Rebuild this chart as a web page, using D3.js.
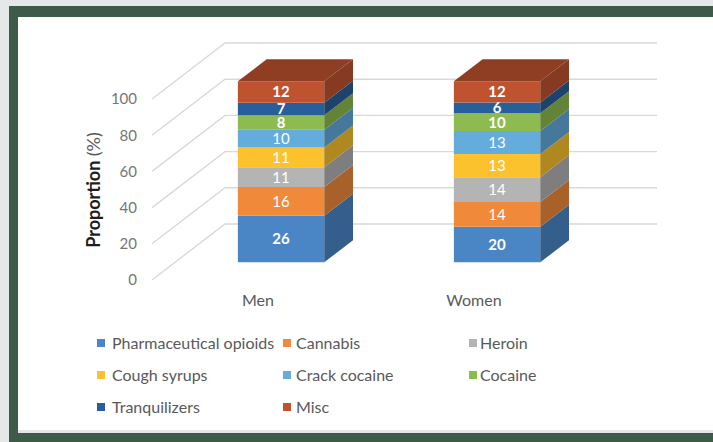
<!DOCTYPE html>
<html>
<head>
<meta charset="utf-8">
<script src="https://cdn.jsdelivr.net/npm/d3@7"></script>
<style>
  html, body { margin: 0; padding: 0; background: #e6e7e8; }
  svg { display: block; font-family: Lato, "Open Sans", sans-serif; }
</style>
</head>
<body>
<svg id="chart" width="713" height="442"></svg>
<script>
// Drug categories (stack order bottom → top) and their colours
const drugs = ["Pharmaceutical opioids", "Cannabis", "Heroin", "Cough syrups",
               "Crack cocaine", "Cocaine", "Tranquilizers", "Misc"];
const colors = ["#4a86c6", "#f08a3a", "#b4b4b4", "#fbc22e",
                "#63acdc", "#8dbb4f", "#285f9a", "#bf532f"];
// Labels drawn in bold weight
const boldDrugs = ["Pharmaceutical opioids", "Cocaine", "Tranquilizers", "Misc"];

const groups = ["Men", "Women"];
const men   = [26, 16, 11, 11, 10, 8, 7, 12];
const women = [20, 14, 14, 13, 13, 10, 6, 12];
const yTicks = [0, 20, 40, 60, 80, 100];

const svg = d3.select("#chart");

// Page frame
svg.append("rect").attr("x", 9).attr("y", 6).attr("width", 704).attr("height", 436).attr("fill", "#3d5b48");
svg.append("rect").attr("x", 18).attr("y", 17).attr("width", 695).attr("height", 416).attr("fill", "#e4e5e6");
svg.append("rect").attr("x", 18).attr("y", 17).attr("width", 695).attr("height", 413).attr("fill", "#ffffff");

// Oblique 3D projection: x along the floor, v in percent, z depth (0 front, 1 back)
const X0 = 152, Y0 = 280, DX = 73, DY = 56, FLOOR_W = 432;
const y = d3.scaleLinear().domain([0, 100]).range([Y0, Y0 - 181]);
const x = d3.scaleBand().domain(groups).range([-2, FLOOR_W - 2]).paddingInner(0.6).paddingOuter(0.3);
const P = (px, v, z) => [X0 + px + z * DX, y(v) - z * DY];
const poly = pts => "M" + pts.map(p => p.join(",")).join("L") + "Z";

// Gridlines: side wall diagonals and back wall horizontals
const grid = svg.append("g").attr("stroke", "#d9d9d9").attr("stroke-width", 1.4).attr("fill", "none");
yTicks.forEach(t => {
  grid.append("path").attr("d", "M" + [P(0, t, 0), P(0, t, 1), P(FLOOR_W, t, 1)].map(p => p.join(",")).join("L"));
});

// Y axis tick labels
const yAxis = svg.append("g").attr("transform", `translate(${X0},0)`)
  .call(d3.axisLeft(y).tickValues(yTicks).tickSize(0).tickPadding(15));
yAxis.select(".domain").remove();
yAxis.selectAll("text").attr("fill", "#767676").style("font-size", "15px").style("font-family", "Lato, sans-serif");

// Y axis title
const title = svg.append("text")
  .attr("transform", "translate(100,190) rotate(-90)")
  .attr("text-anchor", "middle").style("font-size", "18px");
title.append("tspan").attr("font-weight", "bold").attr("fill", "#1e1e1e").text("Proportion ");
title.append("tspan").attr("fill", "#595959").text("(%)");

// Stacked data, expanded to 100%
const rows = groups.map((g, gi) => {
  const r = { group: g };
  drugs.forEach((d, di) => r[d] = (gi === 0 ? men : women)[di]);
  return r;
});
const series = d3.stack().keys(drugs).offset(d3.stackOffsetExpand)(rows);

const Z1 = 0.316, Z2 = 0.71;
const bars = svg.append("g");
const labels = svg.append("g").attr("text-anchor", "middle").attr("fill", "#ffffff");

series.forEach((s, si) => {
  const c = d3.color(colors[si]);
  s.forEach((seg, gi) => {
    const g = groups[gi];
    const x0 = x(g), x1 = x(g) + x.bandwidth();
    const v0 = seg[0] * 100, v1 = seg[1] * 100;
    // front face
    bars.append("path").attr("fill", c.formatHex())
      .attr("d", poly([P(x0, v0, Z1), P(x1, v0, Z1), P(x1, v1, Z1), P(x0, v1, Z1)]));
    // right side face
    bars.append("path").attr("fill", c.darker(1).formatHex())
      .attr("d", poly([P(x1, v0, Z1), P(x1, v0, Z2), P(x1, v1, Z2), P(x1, v1, Z1)]));
    // top face on the highest segment
    if (si === series.length - 1) {
      bars.append("path").attr("fill", c.darker(0.8).formatHex())
        .attr("d", poly([P(x0, v1, Z1), P(x1, v1, Z1), P(x1, v1, Z2), P(x0, v1, Z2)]));
    }
    // value label
    const mid = P((x0 + x1) / 2, (v0 + v1) / 2, Z1);
    labels.append("text")
      .attr("x", mid[0]).attr("y", mid[1]).attr("dy", "0.36em")
      .attr("font-weight", boldDrugs.includes(s.key) ? "bold" : "normal")
      .style("font-size", "15px")
      .text(seg.data[s.key]);
  });
});

// Category labels along the floor front edge
svg.append("g").selectAll("text").data(groups).join("text")
  .attr("x", d => P(x(d) + x.bandwidth() / 2, 0, 0)[0])
  .attr("y", 306).attr("text-anchor", "middle")
  .attr("fill", "#595959").style("font-size", "16px")
  .text(d => d);

// Legend, three columns
const legend = svg.append("g");
drugs.forEach((d, i) => {
  const col = i % 3, row = Math.floor(i / 3);
  const lx = [97, 283, 469][col], ly = 343 + row * 32;
  legend.append("rect").attr("x", lx).attr("y", ly - 4).attr("width", 8).attr("height", 8).attr("fill", colors[i]);
  legend.append("text").attr("x", lx + [15, 13, 11][col]).attr("y", ly).attr("dy", "0.35em")
    .attr("fill", "#595959").style("font-size", "16px").text(d);
});
</script>
</body>
</html>
